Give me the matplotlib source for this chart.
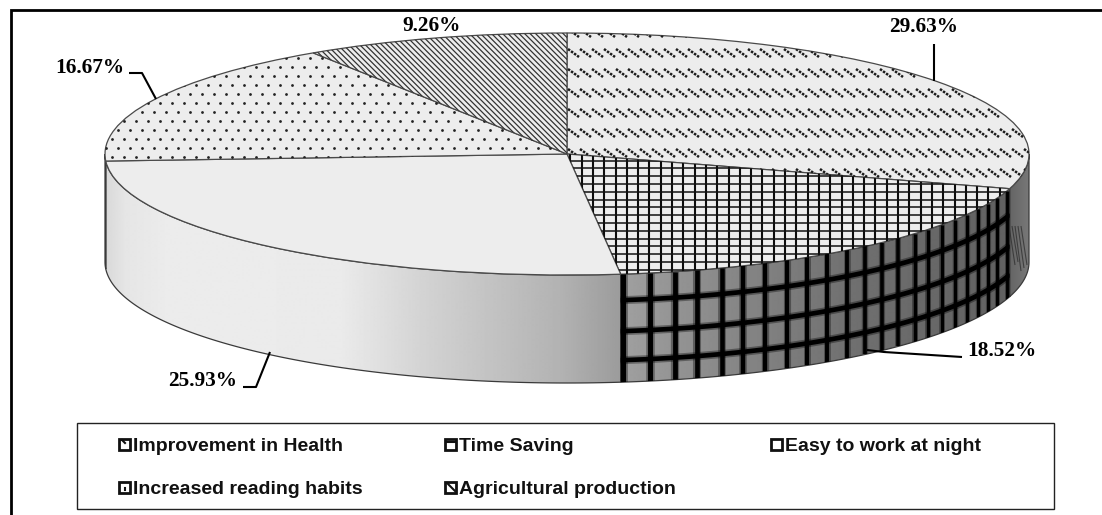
import numpy as np
import matplotlib
matplotlib.use('Agg')
import matplotlib.pyplot as plt
from matplotlib.collections import LineCollection
from matplotlib.patches import Polygon, Rectangle

categories = ['Improvement in Health', 'Time Saving', 'Easy to work at night',
              'Increased reading habits', 'Agricultural production']
values = [29.63, 18.52, 25.93, 16.67, 9.26]
value_labels = ['29.63%', '18.52%', '25.93%', '16.67%', '9.26%']

# pie geometry in pixels of the picture
W, H = 1102, 515
CX, CY, A, B, DEPTH = 567, 154, 462, 121, 108

# wall shading, pixel x -> gray level
shade_x = [106, 125, 170, 340, 430, 560, 620, 630, 720, 850, 1005, 1029]
shade_v = [0.85, 0.90, 0.925, 0.92, 0.82, 0.70, 0.61, 0.62, 0.54, 0.44, 0.38, 0.47]
wall_grid_x = [623, 650, 675, 697, 722, 743, 765, 787, 807, 827, 847, 865,
               882, 898, 915, 928, 942, 955, 967, 978, 988, 997, 1007]
wall_grid_off = [26, 57, 86]


def to_ux(px):
    return (np.asarray(px, dtype=float) - CX) / A


fig = plt.figure(figsize=(W / 100, H / 100), dpi=100)
ax = fig.add_axes([0, 0, 1, 1])

edges = np.concatenate([[0], np.cumsum(values)]) / np.sum(values) * 360

# side walls first, top of the pie goes over them
walls = []
for i in range(len(values)):
    t0, t1 = max(edges[i], 90), min(edges[i + 1], 270)
    if t0 >= t1:
        walls.append(None)
        continue
    t = np.radians(np.linspace(t0, t1, 200))
    xs, ys = np.sin(t), np.cos(t)
    d = DEPTH / B
    pts = np.column_stack([np.r_[xs, xs[::-1]], np.r_[ys, ys[::-1] - d]])
    poly = Polygon(pts, closed=True, fc='none', ec='#3a3a3a', lw=0.9, zorder=3)
    ax.add_patch(poly)
    px = np.arange(CX + A * xs.min(), CX + A * xs.max() + 1)
    grad = np.interp(px, shade_x, shade_v)[None, :]
    im = ax.imshow(grad, cmap='gray', vmin=0, vmax=1, aspect='auto', zorder=2,
                   extent=[to_ux(px[0]), to_ux(px[-1]), -2, 1.2], interpolation='bilinear')
    im.set_clip_path(poly)
    walls.append(poly)

wedges, _ = ax.pie(values, startangle=90, counterclock=False, radius=1,
                   colors=['#ededed'] * 5,
                   wedgeprops={'edgecolor': '#4a4a4a', 'linewidth': 0.9, 'zorder': 5})
ax.set_aspect('auto')
ax.set_xlim(to_ux(0), to_ux(W))
ax.set_ylim((CY - H) / B, CY / B)
ax.axis('off')

# second axes in picture pixels: patterns, labels, legend
ov = fig.add_axes([0, 0, 1, 1], facecolor='none')
ov.set_xlim(0, W)
ov.set_ylim(H, 0)
ov.axis('off')

# pattern of slice 1: rows of short dotted dashes
segs = []
for y in np.arange(33, 215, 20):
    for x in np.arange(556, 1040, 12):
        segs.append([(x, y - 4), (x + 11, y + 4)])
lc = LineCollection(segs, colors='#1c1c1c', linewidths=1.8, linestyles=[(0, (1.0, 0.5))])
ov.add_collection(lc)
lc.set_clip_path(wedges[0])

# slice 2: fine grid
segs = [[(x, 140), (x, 290)] for x in np.arange(570.4, 1020, 11.3)]
lc = LineCollection(segs, colors='#0c0c0c', linewidths=1.5)
ov.add_collection(lc)
lc.set_clip_path(wedges[1])
segs = [[(560, y), (1020, y)] for y in np.arange(152.7, 290, 7.8)]
lc = LineCollection(segs, colors='#111111', linewidths=1.1)
ov.add_collection(lc)
lc.set_clip_path(wedges[1])

# slice 4: staggered dots
dx, dy = [], []
for k, y in enumerate(np.arange(157, 40, -9)):
    xr = np.arange(100 + (k % 2) * 6, 580, 12)
    dx.extend(xr)
    dy.extend([y] * len(xr))
dots = ov.scatter(dx, dy, s=4, color='#222222', linewidths=0)
dots.set_clip_path(wedges[3])

# slice 5: diagonal lines
segs = [[(x, 20), (x + 150, 170)] for x in np.arange(170, 590, 5.5)]
lc = LineCollection(segs, colors='#333333', linewidths=0.9)
ov.add_collection(lc)
lc.set_clip_path(wedges[4])

# grid painted on the wall of slice 2
grid_t = np.arccos(np.clip((np.array(wall_grid_x) - CX) / A, -1, 1))
for width, alpha in [(5.5, 0.35), (3.2, 1.0)]:
    segs, lws = [], []
    for x, t in zip(wall_grid_x, grid_t):
        y_top = CY + B * np.sin(t)
        segs.append([(x, y_top), (x, y_top + DEPTH)])
        lws.append(width * np.interp(x, [623, 1007], [1.15, 0.65]))
    xs = np.linspace(615, 1010, 120)
    ye = CY + B * np.sqrt(1 - ((xs - CX) / A) ** 2)
    for off in wall_grid_off:
        segs.append(np.column_stack([xs, ye + off]))
        lws.append(width * 1.05)
    lc = LineCollection(segs, colors='black', linewidths=lws, alpha=alpha)
    ov.add_collection(lc)
    lc.set_clip_path(walls[1])

# streaks on the wall of slice 1
segs = [[(x, 222 + 4 * (x % 3)), (x + 6, 262 + 3 * (x % 4))] for x in range(1009, 1024, 3)]
lc = LineCollection(segs, colors='#2a2a2a', linewidths=0.8, alpha=0.7)
ov.add_collection(lc)
lc.set_clip_path(walls[0])

# outer frame: only left and top edge
ov.plot([10.5, 10.5, W], [H, 10, 10], color='black', lw=2, solid_joinstyle='miter')

# data labels and leaders
label_pos = [(924, 27), (1002, 351), (203, 381), (90, 68), (432, 26)]
leaders = [[(934, 44), (934, 81)],
           [(867, 350), (884, 352), (962, 357)],
           [(243, 387), (256, 387), (270, 352)],
           [(129, 73), (142, 73), (156, 99)]]
for s, (x, y) in zip(value_labels, label_pos):
    ov.text(x, y, s, family='Liberation Serif', weight='bold', fontsize=15.3,
            color='black', ha='center', va='center')
for pts in leaders:
    p = np.array(pts)
    ov.plot(p[:, 0], p[:, 1], color='black', lw=1.5, solid_capstyle='butt')

# legend
ov.add_patch(Rectangle((77, 423), 977, 86, fc='white', ec='#222222', lw=1, zorder=1))
legend_xy = [(118, 444), (444, 444), (770, 444), (118, 487), (444, 487)]
marks = [[(122, 440), (125, 443)], [(447, 442), (455, 442)], None, [(125, 488), (125, 490)],
         [(447, 483), (455, 491)]]
for name, (x, y), m in zip(categories, legend_xy, marks):
    ov.add_patch(Rectangle((x + 1, y - 5.5), 11, 11, fc='white', ec='#111111', lw=2, zorder=2))
    if m:
        ov.plot([m[0][0], m[1][0]], [m[0][1], m[1][1]], color='#111111', lw=1.5, zorder=3)
    ov.text(x + 15, y + 7, name, family='Liberation Sans', weight='bold', fontsize=14,
            color='#111111', ha='left', va='baseline', zorder=3)

fig.savefig('out.png', dpi=100)
